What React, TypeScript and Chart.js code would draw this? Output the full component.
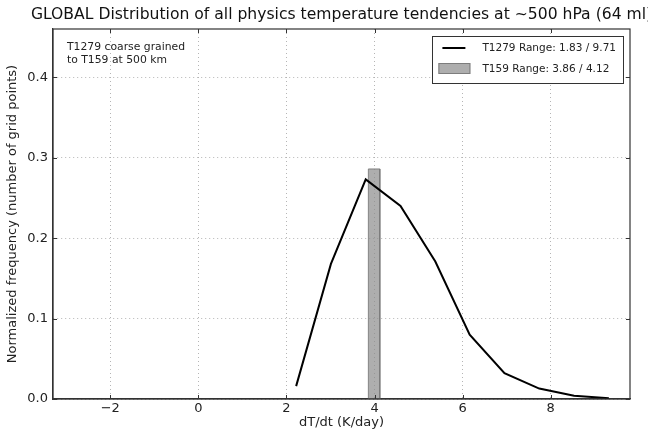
import React, { useEffect, useRef } from "react";
import { Chart, registerables } from "chart.js";

Chart.register(...registerables);

const titleText = "GLOBAL Distribution of all physics temperature tendencies at ~500 hPa (64 ml)";
const annotationLines = ["T1279 coarse grained", "to T159 at 500 km"];
const xAxisLabel = "dT/dt (K/day)";
const yAxisLabel = "Normalized frequency (number of grid points)";

const t1279Label = "T1279 Range: 1.83 / 9.71";
const t159Label = "T159 Range: 3.86 / 4.12";

const t1279X = [2.22, 3.01, 3.8, 4.59, 5.38, 6.16, 6.95, 7.74, 8.53, 9.32];
const t1279Y = [0.016, 0.168, 0.273, 0.24, 0.171, 0.08, 0.032, 0.013, 0.004, 0.001];

const t159Edges = [3.86, 4.12];
const t159Height = 0.286;

const xTicks = [-2, 0, 2, 4, 6, 8];
const yTicks = [0, 0.1, 0.2, 0.3, 0.4];
const xRange = [-3.3, 9.8];
const yRange = [0, 0.46];

const FONT = "'DejaVu Sans', sans-serif";
const BAR_FILL = "rgba(140,140,140,0.7)";
const BAR_EDGE = "rgba(120,120,120,0.9)";

const decorPlugin = {
  id: "decor",
  afterDraw(chart: any) {
    const ctx = chart.ctx;
    const a = chart.chartArea;
    const xs = chart.scales.x;
    const ys = chart.scales.y;
    ctx.save();
    // frame
    ctx.strokeStyle = "#333";
    ctx.lineWidth = 1.2;
    ctx.strokeRect(a.left, a.top, a.right - a.left, a.bottom - a.top);
    // inward ticks
    ctx.lineWidth = 1;
    ctx.beginPath();
    xTicks.forEach((v) => {
      const px = Math.round(xs.getPixelForValue(v)) + 0.5;
      ctx.moveTo(px, a.bottom);
      ctx.lineTo(px, a.bottom - 4);
      ctx.moveTo(px, a.top);
      ctx.lineTo(px, a.top + 4);
    });
    yTicks.forEach((v) => {
      const py = Math.round(ys.getPixelForValue(v)) + 0.5;
      ctx.moveTo(a.left, py);
      ctx.lineTo(a.left + 4, py);
      ctx.moveTo(a.right, py);
      ctx.lineTo(a.right - 4, py);
    });
    ctx.stroke();

    // title
    ctx.fillStyle = "#111";
    ctx.font = `15.6px ${FONT}`;
    ctx.textAlign = "center";
    ctx.textBaseline = "middle";
    ctx.fillText(titleText, (a.left + a.right) / 2, 15);

    // annotation
    ctx.font = `10.8px ${FONT}`;
    ctx.textAlign = "left";
    ctx.fillStyle = "#222";
    annotationLines.forEach((t, i) => {
      ctx.fillText(t, a.left + 14, a.top + 18 + i * 12.8);
    });

    // legend
    ctx.font = `10.5px ${FONT}`;
    const labels = [t1279Label, t159Label];
    const tw = Math.max(...labels.map((l) => ctx.measureText(l).width));
    const boxW = 50 + tw + 7;
    const boxH = 47;
    const bx = a.right - 7 - boxW;
    const by = a.top + 7;
    ctx.fillStyle = "#fff";
    ctx.fillRect(bx, by, boxW, boxH);
    ctx.strokeStyle = "#333";
    ctx.lineWidth = 1;
    ctx.strokeRect(Math.round(bx) + 0.5, Math.round(by) + 0.5, Math.round(boxW), boxH);
    // line sample
    ctx.strokeStyle = "#000";
    ctx.lineWidth = 2;
    ctx.beginPath();
    ctx.moveTo(bx + 10, by + 12);
    ctx.lineTo(bx + 33, by + 12);
    ctx.stroke();
    // patch sample
    ctx.fillStyle = BAR_FILL;
    ctx.fillRect(bx + 6, by + 27, 32, 11);
    ctx.strokeStyle = BAR_EDGE;
    ctx.lineWidth = 1;
    ctx.strokeRect(bx + 6.5, by + 27.5, 31, 10);
    ctx.fillStyle = "#222";
    ctx.textBaseline = "middle";
    ctx.fillText(labels[0], bx + 50, by + 12);
    ctx.fillText(labels[1], bx + 50, by + 33);
    ctx.restore();
  },
};

export default function App() {
  const ref = useRef<HTMLCanvasElement>(null);
  useEffect(() => {
    if (!ref.current) return;
    const barPts = [
      { x: t159Edges[0], y: 0 },
      { x: t159Edges[0], y: t159Height },
      { x: t159Edges[1], y: t159Height },
      { x: t159Edges[1], y: 0 },
    ];
    const chart = new Chart(ref.current, {
      type: "line",
      data: {
        datasets: [
          {
            label: t159Label,
            data: barPts,
            borderColor: BAR_EDGE,
            backgroundColor: BAR_FILL,
            borderWidth: 1,
            fill: "origin",
            pointRadius: 0,
            tension: 0,
            order: 2,
          },
          {
            label: t1279Label,
            data: t1279X.map((x, i) => ({ x, y: t1279Y[i] })),
            borderColor: "#000",
            borderWidth: 2,
            pointRadius: 0,
            tension: 0,
            fill: false,
            order: 1,
          },
        ],
      },
      options: {
        animation: false,
        responsive: false,
        layout: { padding: { top: 29, right: 18, left: 0, bottom: 0 } },
        plugins: {
          legend: { display: false },
          title: { display: false },
          tooltip: { enabled: false },
        },
        scales: {
          x: {
            type: "linear",
            min: xRange[0],
            max: xRange[1],
            afterBuildTicks: (s: any) => {
              s.ticks = xTicks.map((v) => ({ value: v }));
            },
            afterFit: (s: any) => {
              s.height = 31;
            },
            ticks: {
              font: { family: FONT, size: 13 },
              color: "#222",
              padding: 2,
              maxRotation: 0,
              callback: (v: any) => (v < 0 ? "\u2212" + Math.abs(v) : String(v)),
            },
            grid: { color: "#b5b5b5", lineWidth: 1, drawTicks: false },
            border: { display: true, color: "#333", width: 1.2, dash: [1, 3] },
            title: {
              display: true,
              text: xAxisLabel,
              font: { family: FONT, size: 13 },
              color: "#222",
              padding: { top: 0, bottom: 0 },
            },
          },
          y: {
            type: "linear",
            min: yRange[0],
            max: yRange[1],
            afterBuildTicks: (s: any) => {
              s.ticks = yTicks.map((v) => ({ value: v }));
            },
            afterFit: (s: any) => {
              s.width = 53;
            },
            ticks: {
              font: { family: FONT, size: 13 },
              color: "#222",
              padding: 5,
              callback: (v: any) => Number(v).toFixed(1),
            },
            grid: { color: "#b5b5b5", lineWidth: 1, drawTicks: false },
            border: { display: true, color: "#333", width: 1.2, dash: [1, 3] },
            title: {
              display: true,
              text: yAxisLabel,
              font: { family: FONT, size: 13 },
              color: "#222",
              padding: { top: 5, bottom: 0 },
            },
          },
        },
      },
      plugins: [decorPlugin],
    });
    return () => chart.destroy();
  }, []);
  return (
    <div style={{ position: "fixed", left: 0, top: 0, width: 648, height: 430, background: "#fff" }}>
      <canvas ref={ref} width={648} height={430} style={{ width: 648, height: 430 }} />
    </div>
  );
}
